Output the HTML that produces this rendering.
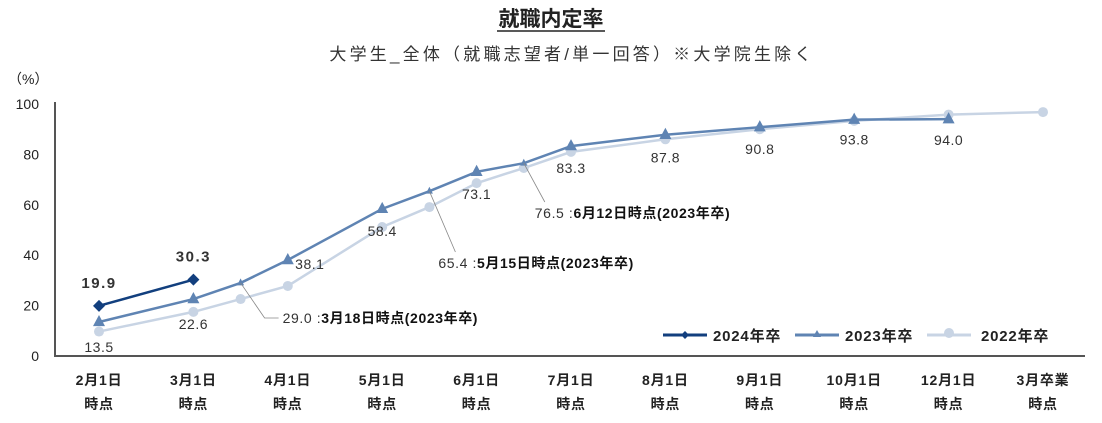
<!DOCTYPE html>
<html><head><meta charset="utf-8"><style>
body{margin:0;background:#fff;}
svg{display:block;font-family:"Liberation Sans","Noto Sans CJK JP",sans-serif;}
</style></head><body>
<svg id="chart" width="1102" height="423" viewBox="0 0 1102 423">
<text x="551" y="26" text-anchor="middle" font-size="21" font-weight="bold" fill="#222">就職内定率</text>
<line x1="497" y1="31" x2="605" y2="31" stroke="#222" stroke-width="1.5"/>
<text x="572" y="60" text-anchor="middle" font-size="17" fill="#333" letter-spacing="3.2">大学生_全体（就職志望者/単一回答）※大学院生除く</text>
<text x="8" y="84" font-size="14" fill="#222">（%）</text>
<g id="axes"></g>
<g id="series"></g>
<g id="labels"></g>
<g id="legend"></g>
</svg>
<script>
const categories=["2月1日","3月1日","4月1日","5月1日","6月1日","7月1日","8月1日","9月1日","10月1日","12月1日","3月卒業"];
const yTicks=[0,20,40,60,80,100];
const pos2024=[0,1];
const vals2024=[19.9,30.3];
const pos2023=[0,1,1.5,2,3,3.5,4,4.5,5,6,7,8,9];
const vals2023=[13.5,22.6,29.0,38.1,58.4,65.4,73.1,76.5,83.3,87.8,90.8,93.8,94.0];
const pos2022=[0,1,1.5,2,3,3.5,4,4.5,5,6,7,8,9,10];
const vals2022=[9.7,17.5,22.6,27.8,51.2,59.1,68.6,74.6,81.0,86.0,90.0,93.3,95.8,96.8];
const labels2024=["19.9","30.3"];
const labelIdx2023=[0,1,3,4,6,8,9,10,11,12];
const callouts=[{i:2,text:"3月18日時点(2023年卒)"},{i:5,text:"5月15日時点(2023年卒)"},{i:7,text:"6月12日時点(2023年卒)"}];
const seriesNames=["2024年卒","2023年卒","2022年卒"];

const NS="http://www.w3.org/2000/svg";
const X=i=>99+i*94.4;
const Y=v=>356-v*2.52;
function mk(tag,attrs,parent){const e=document.createElementNS(NS,tag);for(const k in attrs)e.setAttribute(k,attrs[k]);parent.appendChild(e);return e;}
const axes=document.getElementById('axes'),ser=document.getElementById('series'),lab=document.getElementById('labels'),leg=document.getElementById('legend');

let a=mk('polyline',{points:`55,${Y(100)-2} 55,${Y(0)} 1085,${Y(0)}`,fill:'none',stroke:'#555','stroke-width':2},axes);


yTicks.forEach(t=>{const e=mk('text',{x:39,y:Y(t)+5,'text-anchor':'end','font-size':14,fill:'#222'},axes);e.textContent=t;

});
categories.forEach((c,i)=>{const g=mk('text',{x:X(i),y:385,'text-anchor':'middle','font-size':14,'font-weight':'bold',fill:'#222','letter-spacing':0.8},axes);


const t1=mk('tspan',{x:X(i),y:385},g);t1.textContent=c;const t2=mk('tspan',{x:X(i),y:409},g);t2.textContent="時点";});

function line(pos,vals,color,name){const p=mk('polyline',{points:pos.map((q,i)=>X(q)+','+Y(vals[i])).join(' '),fill:'none',stroke:color,'stroke-width':2.5},ser);

}
line(pos2022,vals2022,'#c8d4e4','line-2022');
pos2022.forEach((q,i)=>{const c=mk('circle',{cx:X(q),cy:Y(vals2022[i]),r:5,fill:'#c8d4e4'},ser);

});
line(pos2023,vals2023,'#5f84b3','line-2023');
pos2023.forEach((q,i)=>{const x=X(q),y=Y(vals2023[i]);const big=Number.isInteger(q);const s=big?6:3.5;
const t=mk('polygon',{points:`${x},${y-s-1} ${x-s},${y+s*0.7} ${x+s},${y+s*0.7}`,fill:'#5f84b3'},ser);

});
line(pos2024,vals2024,'#123f7e','line-2024');
pos2024.forEach((q,i)=>{const x=X(q),y=Y(vals2024[i]);const d=mk('polygon',{points:`${x},${y-6} ${x+6},${y} ${x},${y+6} ${x-6},${y}`,fill:'#123f7e'},ser);

});

pos2024.forEach((q,i)=>{const e=mk('text',{x:X(q),y:Y(vals2024[i])-18,'text-anchor':'middle','font-size':15,'font-weight':'bold',fill:'#333','letter-spacing':1.5},lab);e.textContent=labels2024[i];

});
labelIdx2023.forEach(k=>{const q=pos2023[k],v=vals2023[k];let x=X(q),y;
if(k<=1){y=Y(v)+30;}else if(k==3){x+=22;y=Y(v)+9;}else{y=Y(v)+27;}
if(k>=9){y=Y(v)+ (k==9?28:k==10?27:k==11?25:26);}
const e=mk('text',{x:x,y:y,'text-anchor':'middle','font-size':14,fill:'#333','letter-spacing':0.5},lab);e.textContent=v.toFixed(1);

});
callouts.forEach((c,n)=>{const x=X(pos2023[c.i]),y=Y(vals2023[c.i]);
let lx,ly,tx,ty;
if(n==0){lx=x+24;ly=318;tx=x+42;ty=323;mk('polyline',{points:`${x},${y} ${lx},${ly} ${lx+14},${ly}`,fill:'none',stroke:'#888','stroke-width':0.8},lab);}
else if(n==1){tx=x+9;ty=268;mk('line',{x1:x,y1:y,x2:x+26,y2:ty-16,stroke:'#888','stroke-width':0.8},lab);}
else{tx=x+11;ty=218;mk('line',{x1:x,y1:y,x2:x+21,y2:ty-16,stroke:'#888','stroke-width':0.8},lab);}
const e=mk('text',{x:tx,y:ty,'font-size':14,fill:'#333','letter-spacing':0.6},lab);


const s1=mk('tspan',{},e);s1.textContent=vals2023[c.i].toFixed(1)+" :";
const s2=mk('tspan',{'font-weight':'bold',fill:'#111'},e);s2.textContent=c.text;});

const lc=['#123f7e','#5f84b3','#c8d4e4'],lx0=[663,795,927];
seriesNames.forEach((nm,i)=>{const g=mk('g',{},leg);


const y=335,x=lx0[i];mk('line',{x1:x,y1:y,x2:x+44,y2:y,stroke:lc[i],'stroke-width':3},g);
const m=x+22;if(i==0)mk('polygon',{points:`${m},${y-4} ${m+4},${y} ${m},${y+4} ${m-4},${y}`,fill:lc[i]},g);
else if(i==1)mk('polygon',{points:`${m},${y-5} ${m-4},${y+2} ${m+4},${y+2}`,fill:lc[i]},g);
else mk('circle',{cx:m,cy:y-2,r:5,fill:lc[i]},g);
const t=mk('text',{x:x+50+(i==2?4:0),y:y+6,'font-size':15,'font-weight':'bold',fill:'#222','letter-spacing':0.8},g);t.textContent=nm;});
</script>
</body></html>
